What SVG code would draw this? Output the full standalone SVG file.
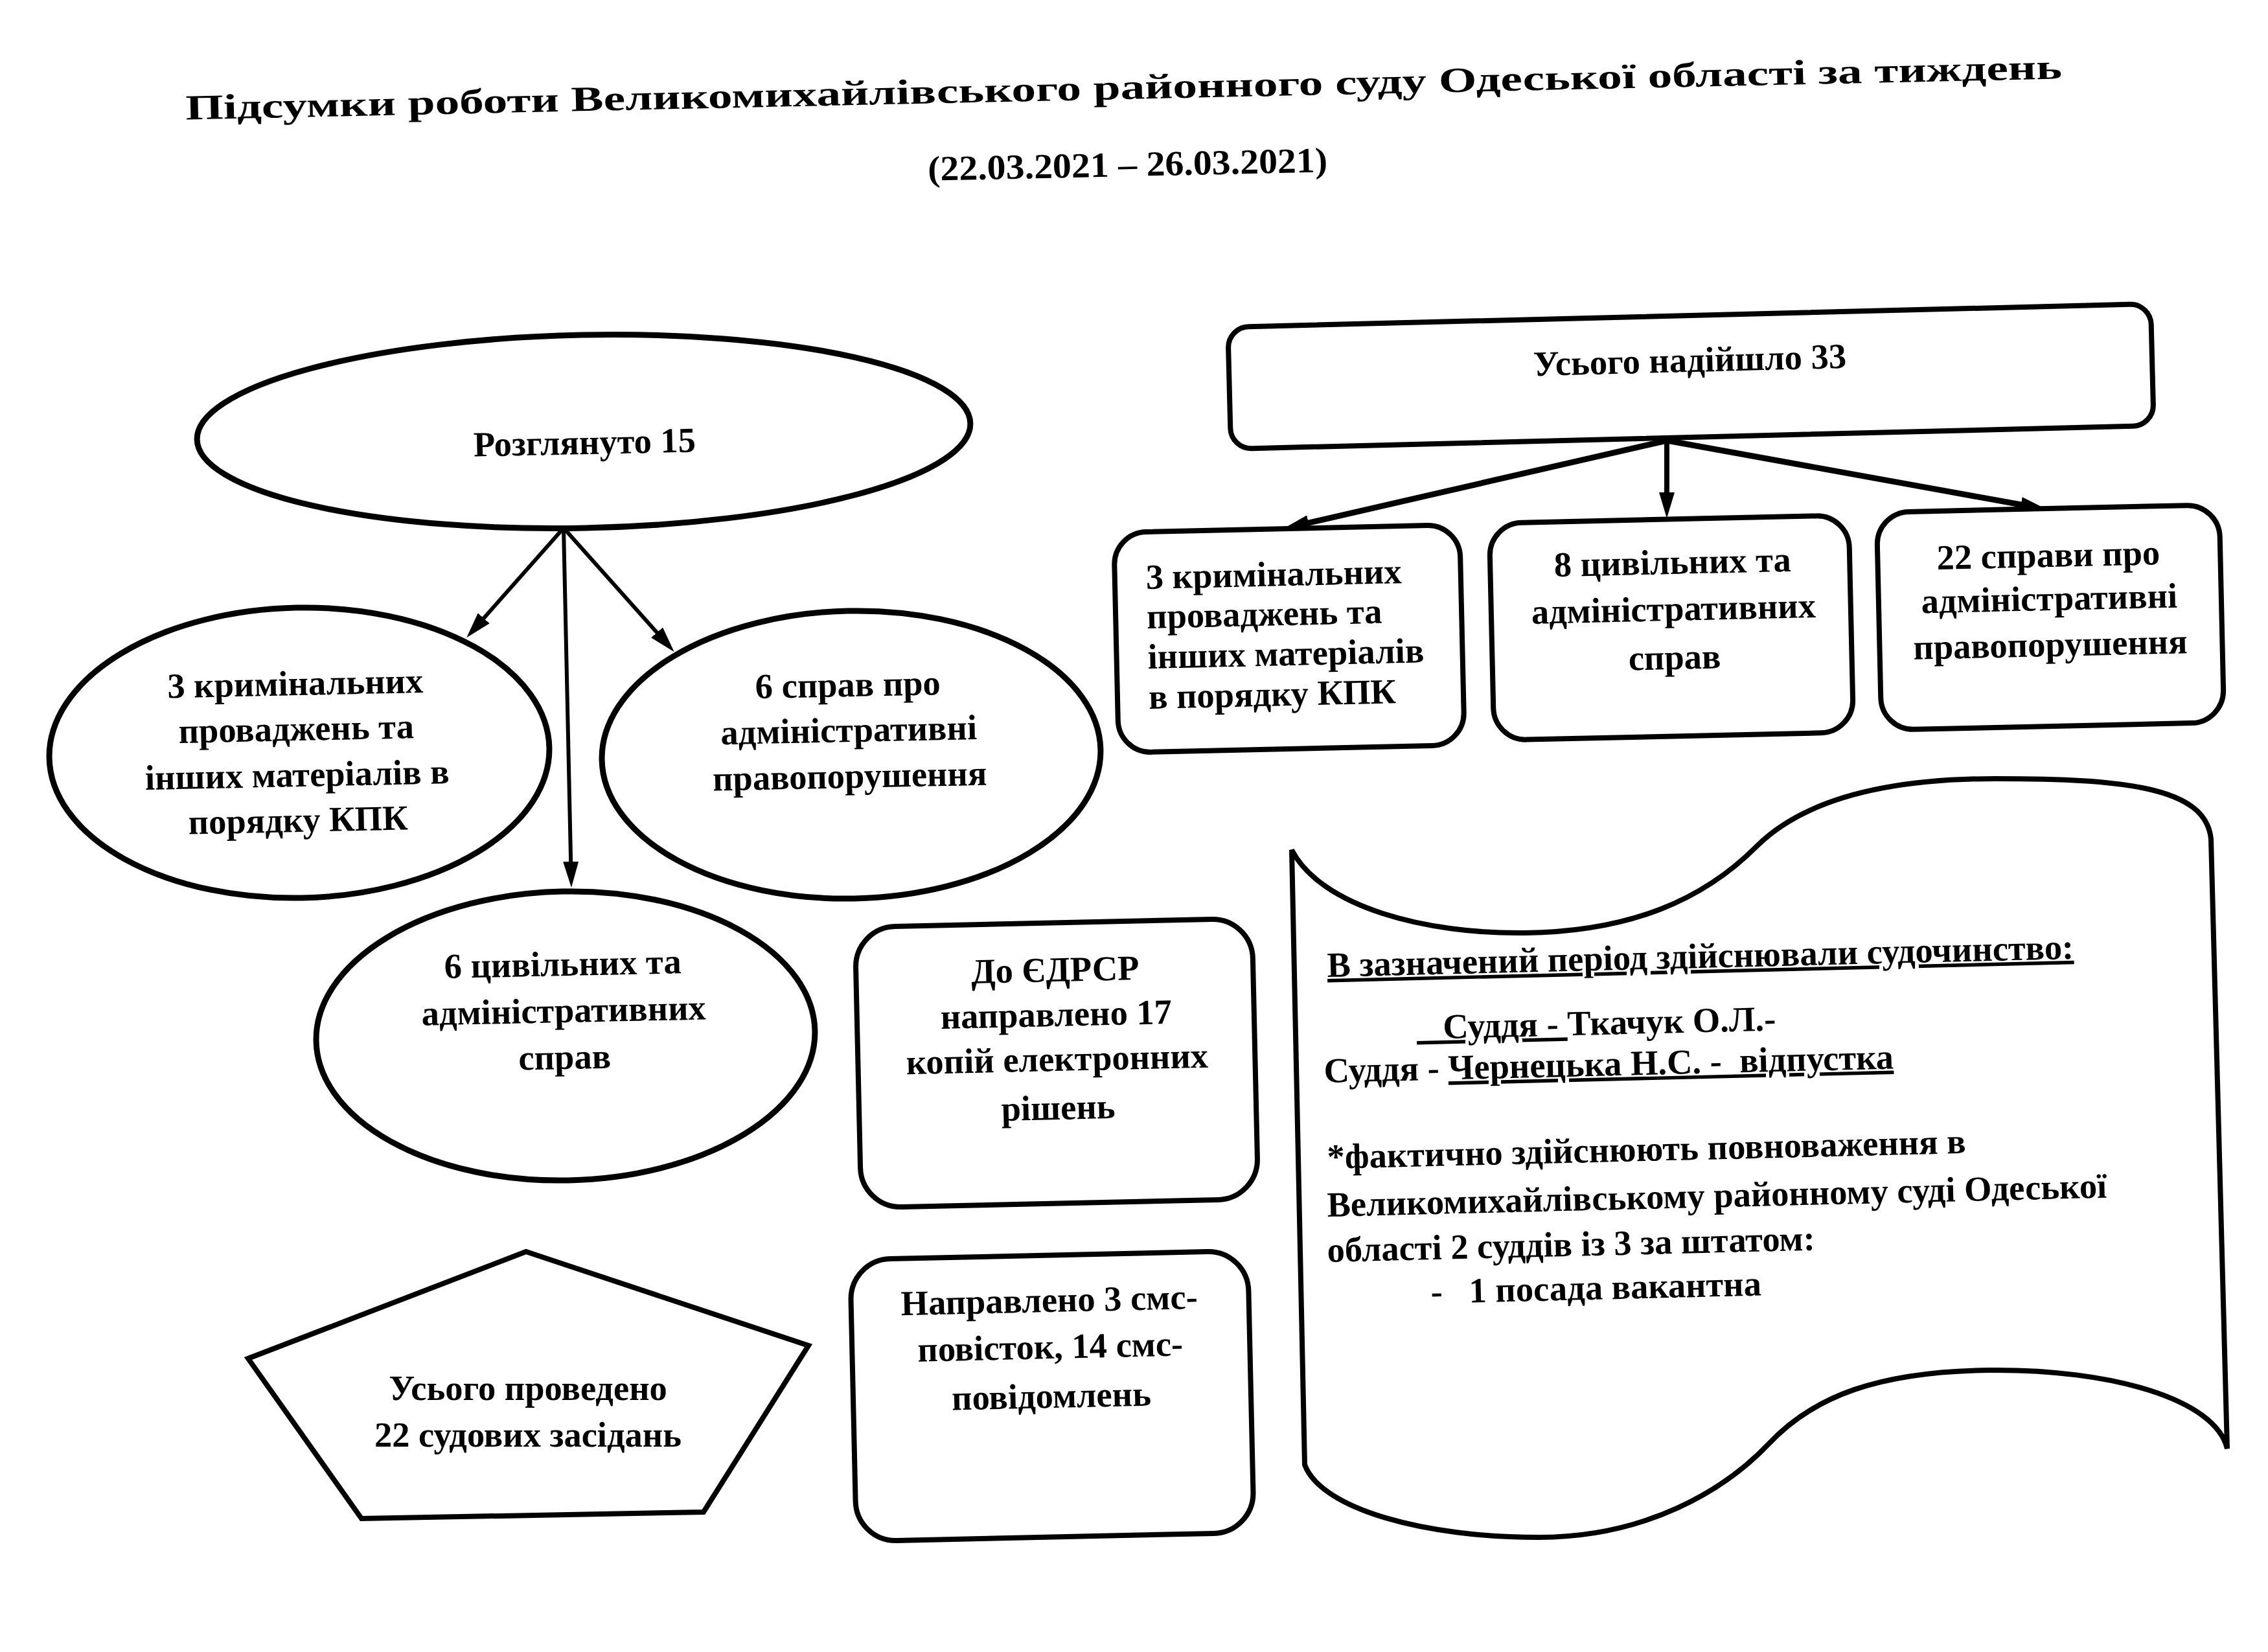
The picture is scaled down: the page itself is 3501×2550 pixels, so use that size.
<svg xmlns="http://www.w3.org/2000/svg" width="3501" height="2550" viewBox="0 0 3501 2550">
<style>
.s{fill:#fff;stroke:#000;stroke-width:8}
.e{fill:#fff;stroke:#000;stroke-width:9}
.t{font-family:"Liberation Serif","Times New Roman",serif;font-weight:bold;font-size:54.5px;fill:#000;text-anchor:middle}
.l{text-anchor:start}
.u{text-decoration:underline}
.c line{stroke:#000}
</style>
<defs>
<marker id="ah" viewBox="0 0 40 24" markerWidth="40" markerHeight="24" refX="20" refY="12" markerUnits="userSpaceOnUse" orient="auto">
<path d="M0,0 L40,12 L0,24 z" fill="#000"/>
</marker>
</defs>
<rect width="3501" height="2550" fill="#fff"/>
<g id="title">
<text class="t" x="1735" y="153" font-size="76" textLength="2897" lengthAdjust="spacingAndGlyphs" transform="rotate(-1.25 1735 153)">Підсумки роботи Великомихайлівського районного суду Одеської області за тиждень</text>
<text class="t" x="1741" y="272" font-size="58" textLength="617" lengthAdjust="spacingAndGlyphs" transform="rotate(-1.25 1741 272)">(22.03.2021 – 26.03.2021)</text>
</g>
<g class="c" id="connectors">
<line x1="870" y1="815" x2="733.5" y2="969.3" stroke-width="6" marker-end="url(#ah)"/>
<line x1="870" y1="815" x2="881.6" y2="1350" stroke-width="6" marker-end="url(#ah)"/>
<line x1="870" y1="815" x2="1027.4" y2="991.3" stroke-width="6" marker-end="url(#ah)"/>
<line x1="2573" y1="680" x2="2000.5" y2="811.6" stroke-width="9" marker-end="url(#ah)"/>
<line x1="2573" y1="680" x2="2573" y2="780" stroke-width="8" marker-end="url(#ah)"/>
<line x1="2573" y1="680" x2="3139.3" y2="782.5" stroke-width="9" marker-end="url(#ah)"/>
</g>
<g id="n-rozglyanuto" transform="rotate(-1.2 901 666)">
<ellipse class="e" cx="901" cy="666" rx="597" ry="149"/>
<text class="t" x="902" y="701">Розглянуто 15</text>
</g>
<g id="n-krym-left" transform="rotate(-1.2 462 1162)">
<ellipse class="e" cx="462" cy="1162" rx="386" ry="224"/>
<text class="t" x="458" y="1073">3 кримінальних</text>
<text class="t" x="458" y="1143">проваджень та</text>
<text class="t" x="458" y="1214">інших матеріалів в</text>
<text class="t" x="458" y="1284">порядку КПК</text>
</g>
<g id="n-adm-left" transform="rotate(-1.2 1314 1165)">
<ellipse class="e" cx="1314" cy="1165" rx="385" ry="222"/>
<text class="t" x="1311" y="1075">6 справ про</text>
<text class="t" x="1311" y="1145">адміністративні</text>
<text class="t" x="1311" y="1216">правопорушення</text>
</g>
<g id="n-civ-left" transform="rotate(-1.2 873 1599)">
<ellipse class="e" cx="873" cy="1599" rx="385" ry="223"/>
<text class="t" x="871" y="1506">6 цивільних та</text>
<text class="t" x="871" y="1578">адміністративних</text>
<text class="t" x="871" y="1650">справ</text>
</g>
<g id="n-edrsr" transform="rotate(-1.3 1631 1641)">
<rect class="s" x="1324.5" y="1424.5" width="613" height="433" rx="62"/>
<text class="t" x="1632" y="1515">До ЄДРСР</text>
<text class="t" x="1632" y="1584">направлено 17</text>
<text class="t" x="1632" y="1653">копій електронних</text>
<text class="t" x="1632" y="1728">рішень</text>
</g>
<g id="n-sms" transform="rotate(-1.3 1624 2155)">
<rect class="s" x="1317" y="1937.5" width="614" height="435" rx="62"/>
<text class="t" x="1623" y="2025">Направлено 3 смс-</text>
<text class="t" x="1623" y="2097">повісток, 14 смс-</text>
<text class="t" x="1623" y="2173">повідомлень</text>
</g>
<g id="n-sessions">
<polygon class="s" stroke-width="7" points="812,1932 1248,2077 1086,2334 558,2344 383,2097"/>
<text class="t" x="815" y="2161">Усього проведено</text>
<text class="t" x="815" y="2233">22 судових засідань</text>
</g>
<g id="n-total" transform="rotate(-1.45 2610 581)">
<rect class="s" x="1897.5" y="487" width="1425" height="188" rx="32"/>
<text class="t" x="2609" y="574">Усього надійшло 33</text>
</g>
<g id="n-krym-right" transform="rotate(-1.3 1990 986)">
<rect class="s" x="1723" y="816" width="534" height="340" rx="50"/>
<text class="t l" x="1771" y="904">3 кримінальних</text>
<text class="t l" x="1771" y="965">проваджень та</text>
<text class="t l" x="1771" y="1027">інших матеріалів</text>
<text class="t l" x="1771" y="1089">в порядку КПК</text>
</g>
<g id="n-civ-right" transform="rotate(-1.3 2580 969)">
<rect class="s" x="2302.5" y="801.5" width="555" height="335" rx="50"/>
<text class="t" x="2584" y="886">8 цивільних та</text>
<text class="t" x="2584" y="958">адміністративних</text>
<text class="t" x="2584" y="1033">справ</text>
</g>
<g id="n-adm-right" transform="rotate(-1.3 3165 953)">
<rect class="s" x="2900.5" y="785" width="529" height="336" rx="50"/>
<text class="t" x="3164" y="875">22 справи про</text>
<text class="t" x="3164" y="942">адміністративні</text>
<text class="t" x="3164" y="1013">правопорушення</text>
</g>
<g id="n-judges">
<path class="s" stroke-width="7" d="M 1994 1312 C 2040 1400 2200 1442 2355 1440 C 2520 1438 2631 1387 2711 1307 C 2791 1227 2930 1202 3080 1202 C 3280 1202 3405 1215 3413 1295 L 3438 2236 C 3420 2160 3260 2113 3070 2115 C 2900 2117 2800 2155 2731 2228 C 2662 2301 2540 2373 2375 2373 C 2200 2373 2040 2330 2014 2261 Z"/>
<text class="t l u" x="2049" y="1508" transform="rotate(-1.4 2049 1508)">В зазначений період здійснювали судочинство:</text>
<text class="t l" x="2187" y="1604" transform="rotate(-1.4 2187 1604)" style="white-space:pre"><tspan class="u">   Суддя - </tspan>Ткачук О.Л.-</text>
<text class="t l" x="2044" y="1671" transform="rotate(-1.4 2044 1671)" style="white-space:pre">Суддя - <tspan class="u">Чернецька Н.С. -  відпустка</tspan></text>
<text class="t l" x="2049" y="1804" transform="rotate(-1.4 2049 1804)">*фактично здійснюють повноваження в</text>
<text class="t l" x="2049" y="1878" transform="rotate(-1.4 2049 1878)">Великомихайлівському районному суді Одеської</text>
<text class="t l" x="2049" y="1948" transform="rotate(-1.4 2049 1948)">області 2 суддів із 3 за штатом:</text>
<text class="t l" x="2209" y="2012" transform="rotate(-1.4 2209 2012)"><tspan>-</tspan><tspan x="2268">1 посада вакантна</tspan></text>
</g>
</svg>
